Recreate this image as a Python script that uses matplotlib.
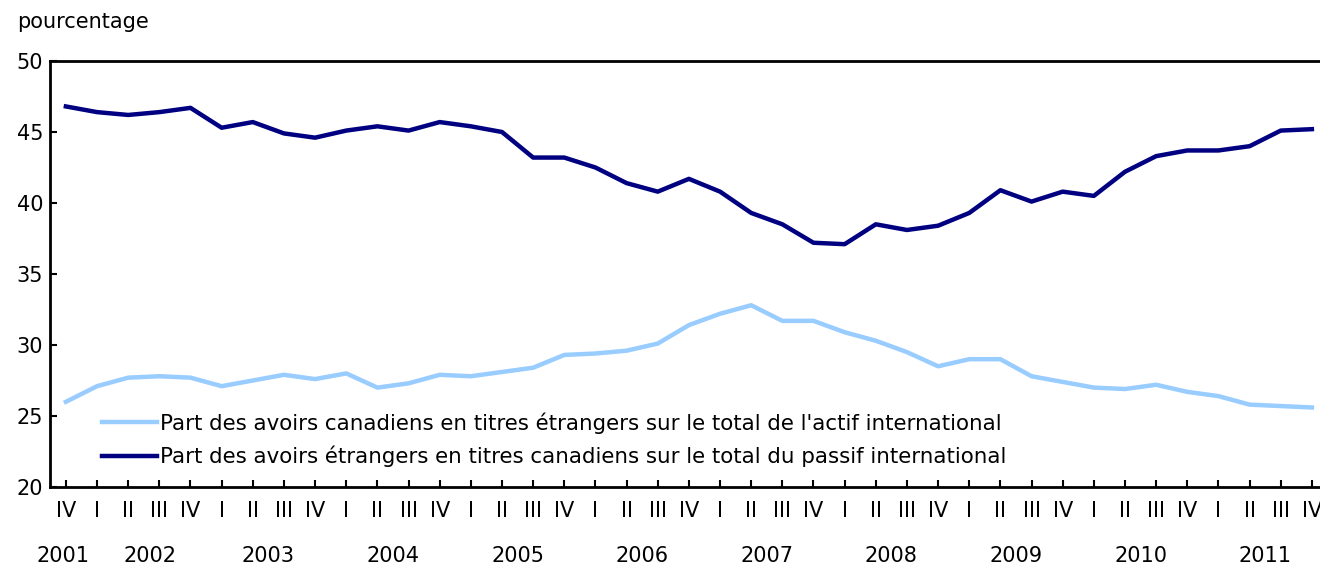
import matplotlib
matplotlib.use("Agg")
import matplotlib.pyplot as plt

quarters = ["IV"] + ["I", "II", "III", "IV"] * 10
years = ["2001", "2002", "2003", "2004", "2005", "2006", "2007", "2008", "2009", "2010", "2011"]
actif = [26.0, 27.1, 27.7, 27.8, 27.7, 27.1, 27.5, 27.9, 27.6, 28.0, 27.0, 27.3, 27.9, 27.8,
         28.1, 28.4, 29.3, 29.4, 29.6, 30.1, 31.4, 32.2, 32.8, 31.7, 31.7, 30.9, 30.3, 29.5,
         28.5, 29.0, 29.0, 27.8, 27.4, 27.0, 26.9, 27.2, 26.7, 26.4, 25.8, 25.7, 25.6]
passif = [46.8, 46.4, 46.2, 46.4, 46.7, 45.3, 45.7, 44.9, 44.6, 45.1, 45.4, 45.1, 45.7, 45.4,
          45.0, 43.2, 43.2, 42.5, 41.4, 40.8, 41.7, 40.8, 39.3, 38.5, 37.2, 37.1, 38.5, 38.1,
          38.4, 39.3, 40.9, 40.1, 40.8, 40.5, 42.2, 43.3, 43.7, 43.7, 44.0, 45.1, 45.2]
label_actif = "Part des avoirs canadiens en titres étrangers sur le total de l'actif international"
label_passif = "Part des avoirs étrangers en titres canadiens sur le total du passif international"

FS = 15
FSL = 15.4
plt.rcParams['font.family'] = ['DejaVu Sans']
fig = plt.figure(figsize=(13.2, 5.67), dpi=100)
ax = fig.add_axes([50/1320, 1-487/567, 1-50/1320, (487-61)/567])

x = list(range(len(quarters)))
ax.plot(x, actif, color="#99CCFF", lw=3.2, label=label_actif)
ax.plot(x, passif, color="#000080", lw=3.2, label=label_passif)

ax.set_xlim(-0.51, 40.26)
ax.set_ylim(20, 50)
ax.set_yticks([20, 25, 30, 35, 40, 45, 50])
ax.set_xticks(x)
ax.set_xticklabels(quarters)
ax.tick_params(axis='both', direction='in', length=5, width=1.5, labelsize=FS, colors='black')
ax.tick_params(axis='x', pad=10)
ax.tick_params(axis='y', pad=5)
for s in ['left', 'top', 'bottom']:
    ax.spines[s].set_linewidth(2)
ax.spines['right'].set_visible(False)

# year labels
year_starts = [0] + [1 + 4*k for k in range(10)]
for yr, st in zip(years, year_starts):
    pos = -0.1 if yr == "2001" else st + 1.5
    if yr == "2002":
        pos = st + 1.7
    ax.text(pos, -0.162, yr, transform=ax.get_xaxis_transform(), ha='center', va='center', fontsize=FS)

fig.text(17/1320, 1-22/567, "pourcentage", ha='left', va='center', fontsize=FS)

leg = ax.legend(loc='lower left', bbox_to_anchor=(0.034, 0.026), frameon=False, fontsize=FSL,
                handlelength=2.6, handletextpad=0.12, labelspacing=0.56, borderaxespad=0)

fig.savefig("out.png", dpi=100)
